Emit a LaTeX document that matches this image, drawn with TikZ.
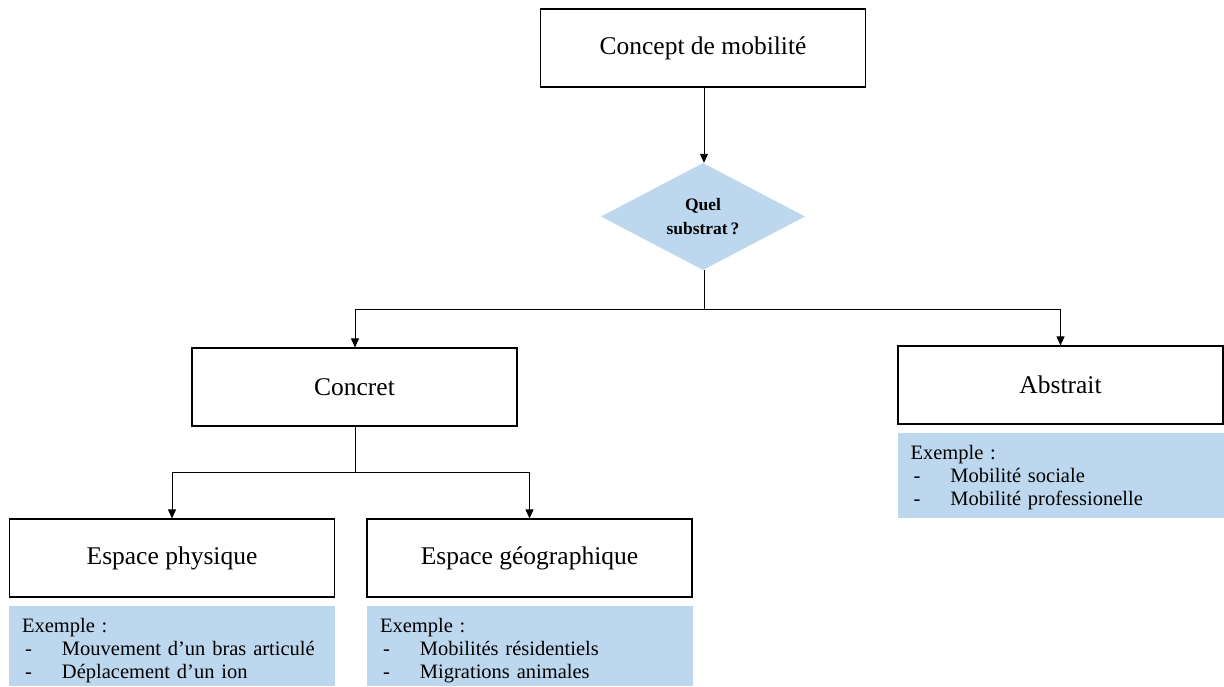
\documentclass[tikz,border=0pt]{standalone}
\usepackage{fontspec}
\setmainfont{Liberation Serif}
\usetikzlibrary{shapes.geometric,arrows.meta}
\definecolor{lblue}{HTML}{BDD7EE}
\newcommand{\itm}[1]{\makebox[40pt][l]{\hspace{3pt}-}#1}
\begin{document}
\begin{tikzpicture}[x=1pt,y=-1pt,
  box/.style={draw,line width=1.2pt,minimum width=325pt,minimum height=78pt,inner sep=0pt,
    font=\fontsize{25.5}{30}\selectfont},
  exbox/.style={fill=lblue,minimum width=326pt,minimum height=80pt,inner sep=0pt},
  extext/.style={anchor=north west,text width=300pt,inner sep=0pt,align=left,
    font=\fontsize{20.5}{23}\selectfont},
  link/.style={line width=0.9pt},
  arr/.style={link,-{Triangle[length=9pt,width=8pt]}}]
\useasboundingbox (0,0) rectangle (1224,686);
% nodes
\node[box] (title) at (703,48) {Concept de mobilité};
\node[diamond,fill=lblue,minimum width=204pt,minimum height=107pt,aspect=2,inner sep=0pt,
  align=center,font=\bfseries\fontsize{17.5}{24}\selectfont] (q) at (703,216.5) {Quel\\substrat\,?};
\node[box] (concret) at (354.5,387) {Concret};
\node[box] (abstrait) at (1060.5,385) {Abstrait};
\node[box] (phys) at (172,558) {Espace physique};
\node[box] (geo) at (529.5,558) {Espace géographique};
\node[exbox,minimum height=85pt] (exabs) at (1060.5,475.5) {};
\node[exbox] (exphys) at (172,646) {};
\node[exbox] (exgeo) at (530,646) {};
\node[extext] (tabs) at ([xshift=13pt,yshift=-12pt]exabs.north west) {Exemple :\\\itm{Mobilité sociale}\\\itm{Mobilité professionelle}};
\node[extext] (tphys) at ([xshift=13pt,yshift=-12pt]exphys.north west) {Exemple :\\\itm{Mouvement d’un bras articulé}\\\itm{Déplacement d’un ion}};
\node[extext] (tgeo) at ([xshift=13pt,yshift=-12pt]exgeo.north west) {Exemple :\\\itm{Mobilités résidentiels}\\\itm{Migrations animales}};
% junctions
\coordinate (j1) at (704,309);
\coordinate (j2) at (355,472);
% connectors
\draw[arr] (title.south -| j1) -- (q.north -| j1);
\draw[link] (q.south -| j1) -- (j1);
\draw[arr] (j1) -| (concret.north -| j2);
\draw[arr] (j1) -| (abstrait.north);
\draw[link] (concret.south -| j2) -- (j2);
\draw[arr] (j2) -| (phys.north);
\draw[arr] (j2) -| (geo.north);
\end{tikzpicture}
\end{document}
